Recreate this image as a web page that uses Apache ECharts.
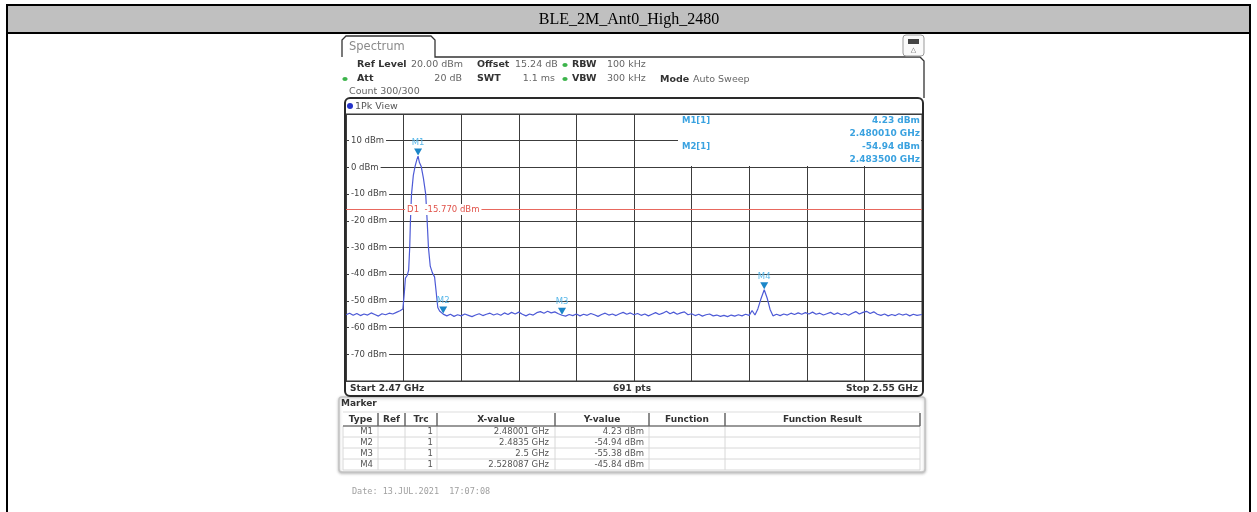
<!DOCTYPE html>
<html><head><meta charset="utf-8">
<script src="https://cdn.jsdelivr.net/npm/echarts@6/dist/echarts.min.js"></script>
<style>html,body{margin:0;padding:0;background:#fff}#c{width:1257px;height:512px}</style>
</head><body><div id="c"></div>
<script>
// ---------------- data ----------------
const pageTitle = 'BLE_2M_Ant0_High_2480';
const startMHz = 2470;
const stopMHz = 2550;
const divMHz = 8;
const yMin = -80, yMax = 20, yStep = 10;
// trace: [frequency MHz, level dBm]
const tracePoints = [
 [2470.0,-55.2],[2470.5,-54.6],[2471.0,-55.4],[2471.5,-54.7],[2472.0,-55.5],[2472.5,-54.9],
 [2473.0,-55.3],[2473.5,-54.5],[2474.0,-55.1],[2474.5,-55.7],[2475.0,-54.8],[2475.5,-55.2],
 [2476.0,-54.6],[2476.5,-54.9],[2477.0,-54.3],[2477.5,-53.7],[2477.9,-53.0],[2478.1,-47.0],
 [2478.25,-41.5],[2478.5,-40.5],[2478.7,-38.5],[2478.85,-30.0],[2478.95,-20.0],[2479.1,-10.0],
 [2479.35,-3.0],[2479.6,0.5],[2479.85,3.0],[2480.01,4.23],[2480.2,1.8],[2480.45,0.3],
 [2480.75,-4.0],[2481.07,-10.0],[2481.27,-20.0],[2481.45,-30.0],[2481.7,-37.0],[2482.0,-39.5],
 [2482.3,-41.0],[2482.5,-46.0],[2482.75,-52.5],[2483.0,-53.8],[2483.25,-54.3],[2483.5,-54.94],
 [2484.0,-55.6],[2484.5,-55.0],[2485.0,-55.8],[2485.5,-55.2],[2486.0,-55.6],[2486.5,-54.9],
 [2487.0,-55.4],[2487.5,-55.9],[2488.0,-55.3],[2488.5,-54.8],[2489.0,-55.5],[2489.5,-55.0],
 [2490.0,-54.6],[2490.5,-55.3],[2491.0,-54.8],[2491.5,-55.4],[2492.0,-54.5],[2492.5,-55.1],
 [2493.0,-54.3],[2493.5,-54.9],[2494.0,-54.2],[2494.5,-55.0],[2495.0,-55.6],[2495.5,-54.9],
 [2496.0,-55.3],[2496.5,-54.4],[2497.0,-54.0],[2497.5,-54.6],[2498.0,-53.9],[2498.5,-54.5],
 [2499.0,-54.1],[2499.5,-54.8],[2500.0,-55.38],[2500.5,-55.7],[2501.0,-55.1],[2501.5,-55.5],
 [2502.0,-54.9],[2502.5,-55.6],[2503.0,-55.0],[2503.5,-55.4],[2504.0,-54.7],[2504.5,-55.2],
 [2505.0,-55.8],[2505.5,-55.1],[2506.0,-54.6],[2506.5,-55.3],[2507.0,-54.9],[2507.5,-55.5],
 [2508.0,-54.8],[2508.5,-54.3],[2509.0,-55.0],[2509.5,-54.5],[2510.0,-55.2],[2510.5,-54.7],
 [2511.0,-55.4],[2511.5,-54.9],[2512.0,-55.6],[2512.5,-55.0],[2513.0,-54.4],[2513.5,-55.1],
 [2514.0,-54.6],[2514.5,-53.9],[2515.0,-54.8],[2515.5,-54.2],[2516.0,-55.0],[2516.5,-54.5],
 [2517.0,-54.1],[2517.5,-55.2],[2518.0,-54.8],[2518.5,-55.5],[2519.0,-55.0],[2519.5,-55.7],
 [2520.0,-55.2],[2520.5,-54.9],[2521.0,-55.6],[2521.5,-55.3],[2522.0,-55.8],[2522.5,-55.4],
 [2523.0,-55.9],[2523.5,-55.3],[2524.0,-55.7],[2524.5,-55.2],[2525.0,-55.6],[2525.5,-55.0],
 [2526.0,-55.4],[2526.4,-53.6],[2526.8,-55.3],[2527.2,-53.0],[2527.6,-49.5],[2528.087,-45.84],
 [2528.5,-49.0],[2528.9,-53.2],[2529.3,-55.6],[2529.8,-55.0],[2530.3,-55.5],[2530.8,-54.9],
 [2531.3,-55.3],[2531.8,-54.6],[2532.3,-55.1],[2532.8,-54.5],[2533.3,-55.0],[2533.8,-54.4],
 [2534.3,-54.9],[2534.8,-54.2],[2535.3,-55.0],[2535.8,-54.6],[2536.3,-55.3],[2536.8,-54.8],
 [2537.3,-54.3],[2537.8,-55.1],[2538.3,-54.5],[2538.8,-55.2],[2539.3,-54.7],[2539.8,-55.4],
 [2540.3,-54.6],[2540.8,-54.0],[2541.3,-54.9],[2541.8,-54.3],[2542.3,-53.9],[2542.8,-54.7],
 [2543.3,-54.1],[2543.8,-55.0],[2544.3,-55.4],[2544.8,-54.9],[2545.3,-55.6],[2545.8,-55.1],
 [2546.3,-55.5],[2546.8,-54.8],[2547.3,-55.3],[2547.8,-54.9],[2548.3,-55.6],[2548.8,-55.0],
 [2549.3,-55.4],[2550.0,-55.1]
];
const markerNames = ['M1','M2','M3','M4'];
const markerMHz = [2480.01, 2483.5, 2500.0, 2528.087];
const markerDbm = [4.23, -54.94, -55.38, -45.84];
const markerXText = ['2.48001 GHz','2.4835 GHz','2.5 GHz','2.528087 GHz'];
const markerYText = ['4.23 dBm','-54.94 dBm','-55.38 dBm','-45.84 dBm'];
const displayLineDbm = -15.77;
const displayLineText = 'D1  -15.770 dBm';
const infoLines = [['M1[1]','4.23 dBm','2.480010 GHz'],['M2[1]','-54.94 dBm','2.483500 GHz']];
const tableHeaders = ['Type','Ref','Trc','X-value','Y-value','Function','Function Result'];
const footerTexts = ['Start 2.47 GHz','691 pts','Stop 2.55 GHz'];
const dateText = 'Date: 13.JUL.2021  17:07:08';

// ---------------- helpers ----------------
const FONT = '"DejaVu Sans"';
function txt(text, x, y, o) {
  o = o || {};
  return {type:'text', x:x, y:y, z:o.z||6, silent:true,
    style:{text:text, fill:o.color||'#444',
      font:(o.bold?'bold ':'')+(o.size||9.5)+'px '+(o.family||FONT),
      textAlign:o.align||'left', textVerticalAlign:'middle'}};
}
function ln(x1,y1,x2,y2,color,w,z){
  return {type:'line', silent:true, z:z||5, shape:{x1:x1,y1:y1,x2:x2,y2:y2}, style:{stroke:color, lineWidth:w}};
}
function rc(x,y,w,h,o){
  o=o||{};
  return {type:'rect', silent:true, z:o.z||4, shape:{x:x,y:y,width:w,height:h,r:o.r||0},
    style:{fill:o.fill||'none', stroke:o.stroke||'none', lineWidth:o.lw||1, shadowBlur:o.sb||0, shadowColor:o.sc||'transparent', shadowOffsetY:o.sy||0}};
}

const g = [];
// outer document table
g.push(rc(7,5,1243,28,{fill:'#c0c0c0',z:1}));
g.push(ln(6,5,1251,5,'#000',2,2));
g.push(ln(6,33,1251,33,'#000',2,2));
g.push(ln(7,4,7,512,'#000',2,2));
g.push(ln(1250,4,1250,512,'#000',2,2));
g.push(txt(pageTitle, 629, 19.5, {size:16, family:'"Liberation Serif"', color:'#000', align:'center'}));

// spectrum tab + panel top
g.push({type:'polyline', silent:true, z:5, shape:{points:[[342,57],[342,40],[346,36],[431,36],[435,40],[435,57],[920,57],[924,61],[924,98]]}, style:{stroke:'#333', lineWidth:1.3, fill:'none'}});
g.push(txt('Spectrum', 349, 47.5, {size:11.5, color:'#8a8a8a'}));
// icon
g.push(rc(903,35,21,21,{stroke:'#999',lw:1,r:3,fill:'#fafafa',z:5}));
g.push(rc(908,39,11,5,{fill:'#444',z:6}));
g.push(txt('\u25B3', 913.5, 50, {size:7, color:'#666', align:'center'}));

// settings text
g.push(txt('Ref Level', 357, 65, {bold:true, color:'#333'}));
g.push(txt('20.00 dBm', 411, 65, {color:'#666'}));
g.push(txt('Offset', 477, 65, {bold:true, color:'#333'}));
g.push(txt('15.24 dB', 515, 65, {color:'#666'}));
g.push({type:'ellipse', silent:true, z:6, shape:{cx:565,cy:65,rx:2.6,ry:2}, style:{fill:'#3cb44b'}});
g.push(txt('RBW', 572, 65, {bold:true, color:'#333'}));
g.push(txt('100 kHz', 607, 65, {color:'#666'}));
g.push({type:'ellipse', silent:true, z:6, shape:{cx:345,cy:79,rx:2.6,ry:2}, style:{fill:'#3cb44b'}});
g.push(txt('Att', 357, 79, {bold:true, color:'#333'}));
g.push(txt('20 dB', 462, 79, {color:'#666', align:'right'}));
g.push(txt('SWT', 477, 79, {bold:true, color:'#333'}));
g.push(txt('1.1 ms', 555, 79, {color:'#666', align:'right'}));
g.push({type:'ellipse', silent:true, z:6, shape:{cx:565,cy:79,rx:2.6,ry:2}, style:{fill:'#3cb44b'}});
g.push(txt('VBW', 572, 79, {bold:true, color:'#333'}));
g.push(txt('300 kHz', 607, 79, {color:'#666'}));
g.push(txt('Mode', 660, 80, {bold:true, color:'#333'}));
g.push(txt('Auto Sweep', 693, 80, {color:'#666'}));
g.push(txt('Count 300/300', 349, 92, {color:'#666'}));

// plot frame
g.push(rc(345,98,578,298,{stroke:'#2a2a2a',lw:2,r:5,z:6}));
g.push({type:'circle', silent:true, z:6, shape:{cx:350,cy:106,r:3}, style:{fill:'#2432c8'}});
g.push(txt('1Pk View', 355, 106.5, {color:'#555'}));
// marker info box
g.push(rc(678,115,243,51,{fill:'#fff',z:1}));
infoLines.forEach(function(r,i){
  const y0 = 121 + i*26;
  g.push(txt(r[0], 682, y0, {bold:true, color:'#3aa2e0', size:8.5}));
  g.push(txt(r[1], 920, y0, {bold:true, color:'#3aa2e0', size:9, align:'right'}));
  g.push(txt(r[2], 920, y0+13, {bold:true, color:'#3aa2e0', size:9, align:'right'}));
});
// footer
g.push(txt(footerTexts[0], 350, 388.5, {bold:true, color:'#333', size:9}));
g.push(txt(footerTexts[1], 632, 388.5, {bold:true, color:'#333', size:9, align:'center'}));
g.push(txt(footerTexts[2], 918, 388.5, {bold:true, color:'#333', size:9, align:'right'}));

// marker table
g.push(rc(339,397,586,75,{stroke:'#c4c4c4',lw:1.5,r:3,fill:'#fff',z:3,sb:3,sc:'rgba(0,0,0,0.25)',sy:1}));
g.push(txt('Marker', 341, 404, {bold:true, color:'#333', size:9}));
const cols = [343,378,405,437,555,649,725,920];
const hdrTop = 412, hdrBot = 426, rowH = 11;
g.push(ln(343,hdrTop,920,hdrTop,'#ddd',1,5));
g.push(ln(343,hdrBot,920,hdrBot,'#777',1.5,5));
cols.slice(1).forEach(function(x){ g.push(ln(x,hdrTop+1,x,hdrBot,'#666',1.5,5)); });
tableHeaders.forEach(function(h,i){
  g.push(txt(h, (cols[i]+cols[i+1])/2, 419.5, {bold:true, color:'#333', size:9, align:'center'}));
});
for (let r=0;r<markerNames.length;r++){
  const yb = hdrBot + rowH*(r+1);
  g.push(ln(343,yb,920,yb,'#d8d8d8',1,5));
  const yc = hdrBot + rowH*r + rowH/2 + 0.5;
  g.push(txt(markerNames[r], 373, yc, {color:'#555', size:8.5, align:'right'}));
  g.push(txt('1', 433, yc, {color:'#555', size:8.5, align:'right'}));
  g.push(txt(markerXText[r], 549, yc, {color:'#555', size:8.5, align:'right'}));
  g.push(txt(markerYText[r], 644, yc, {color:'#555', size:8.5, align:'right'}));
}
cols.forEach(function(x){ g.push(ln(x,hdrBot,x,hdrBot+rowH*markerNames.length,'#d8d8d8',1,4)); });
// date
g.push(txt(dateText, 352, 492, {color:'#a0a0a0', size:8.5, family:'"DejaVu Sans Mono"'}));

// ---------------- chart ----------------
const seriesData = tracePoints.map(function(p){ return [p[0]-startMHz, p[1]]; });
const markPts = markerNames.map(function(n,i){
  return {name:n, coord:[markerMHz[i]-startMHz, markerDbm[i]], symbol:'triangle', symbolRotate:180,
    symbolSize:[8,7], symbolOffset:[0,-4], itemStyle:{color:'#1b86c8'},
    label:{show:true, formatter:n, position:'top', distance:1, color:'#5ab8ea', fontSize:8.5, fontFamily:'DejaVu Sans'}};
});
markPts.push({name:'D1', coord:[divMHz, displayLineDbm], symbol:'rect', symbolSize:1, itemStyle:{color:'rgba(0,0,0,0)'},
  label:{show:true, formatter:displayLineText, position:'right', distance:1, color:'#e0524a', fontSize:8.5,
    fontFamily:'DejaVu Sans', backgroundColor:'#fff', padding:[1,2,1,2]}});

const chart = echarts.init(document.getElementById('c'), null, {renderer:'canvas'});
chart.setOption({
  animation:false,
  backgroundColor:'#fff',
  grid:{left:346, right:335, top:114, bottom:131, show:true, borderColor:'#333', borderWidth:1, backgroundColor:'#fff'},
  xAxis:{type:'value', min:0, max:stopMHz-startMHz, interval:divMHz,
    axisLine:{show:false}, axisTick:{show:false}, axisLabel:{show:false},
    splitLine:{show:true, lineStyle:{color:'#3c3c3c', width:1}}},
  yAxis:{type:'value', min:yMin, max:yMax, interval:yStep,
    axisLine:{show:false}, axisTick:{show:false},
    axisLabel:{inside:true, margin:3, showMinLabel:false, showMaxLabel:false,
      formatter:'{value} dBm', color:'#444', fontSize:8.5, fontFamily:'DejaVu Sans',
      backgroundColor:'#fff', padding:[1,2,1,2]},
    splitLine:{show:true, lineStyle:{color:'#3c3c3c', width:1}}},
  graphic:{elements:g},
  series:[{
    type:'line', data:seriesData, showSymbol:false, symbol:'none',
    lineStyle:{color:'#4d5ad6', width:1.2}, z:3,
    markLine:{silent:true, symbol:'none', animation:false, label:{show:false},
      lineStyle:{color:'#e8685e', type:'solid', width:1}, data:[{yAxis:displayLineDbm}]},
    markPoint:{silent:true, animation:false, data:markPts}
  }]
});
</script></body></html>
